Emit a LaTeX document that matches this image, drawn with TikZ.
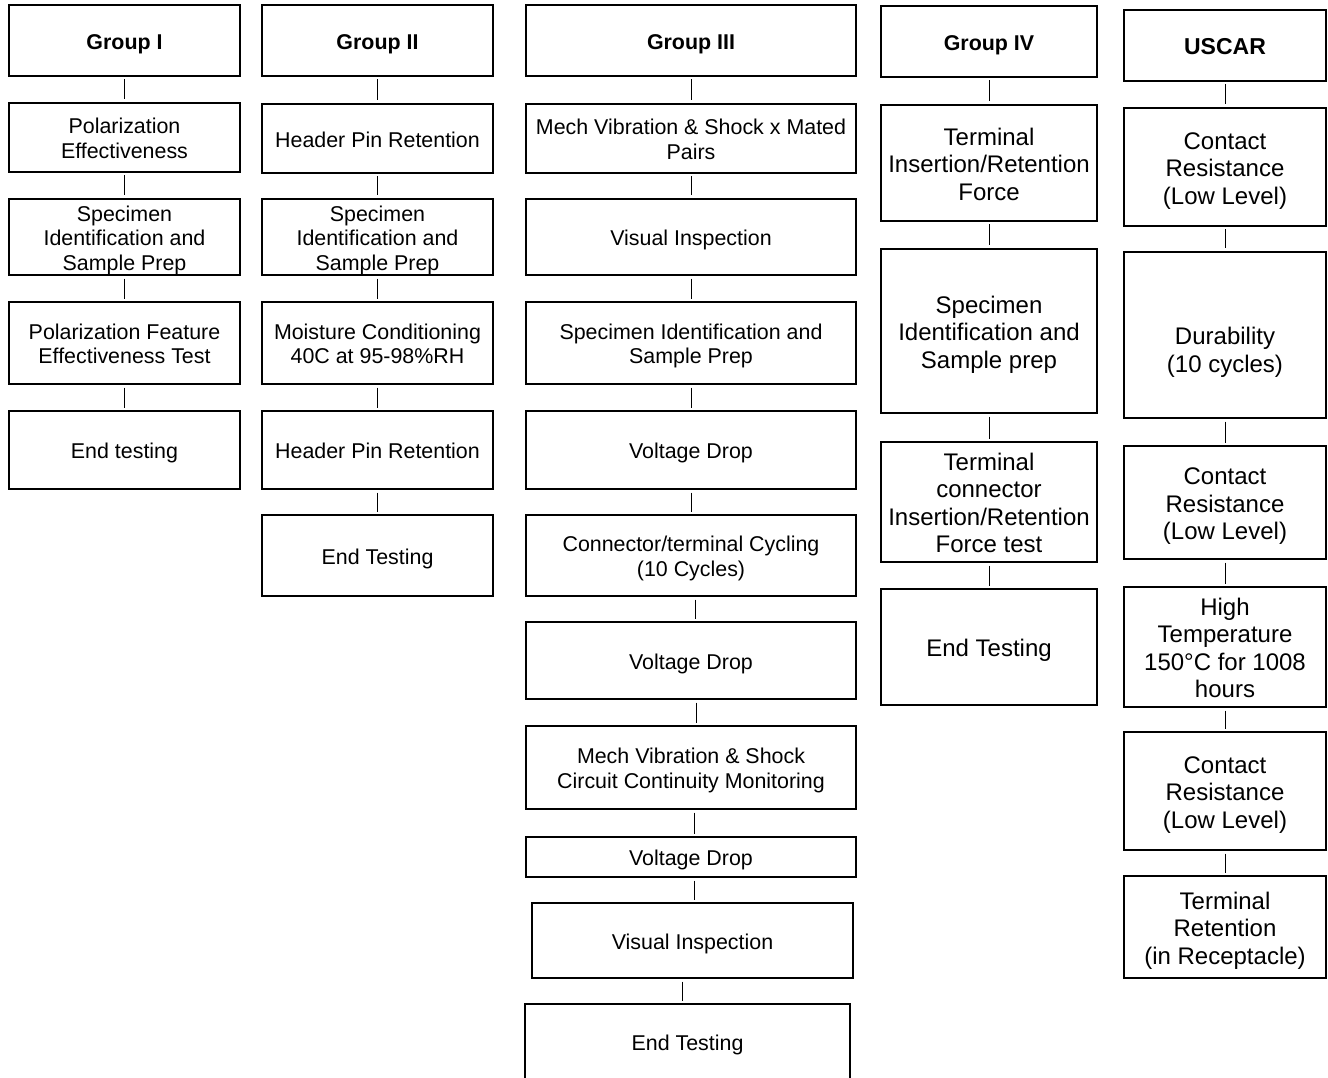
\documentclass[tikz,border=0pt]{standalone}
\usepackage{fontspec}
\setmainfont{Liberation Sans}
\usetikzlibrary{positioning}

\newcommand{\stepfont}{\fontsize{21.4}{24.5}\selectfont}
\newcommand{\widestepfont}{\fontsize{24}{27.5}\selectfont}

\tikzset{
  stepbox/.style={draw, line width=1.6pt, align=flush center, inner sep=0pt,
    outer sep=3.5pt, font=\stepfont,
    execute at begin node={\rule{0pt}{\dimexpr0.936em+2pt\relax}},
    execute at end node={\rule[-0.22em]{0pt}{0pt}}},
  widebox/.style={stepbox, font=\widestepfont},
  headbox/.style={stepbox, font=\stepfont\bfseries},
  boxsize/.style 2 args={minimum width=#1, minimum height=#2, text width=#1-10pt},
  link/.style={line width=0.9pt},
}

\begin{document}
\begin{tikzpicture}[x=1pt, y=-1pt]
  \useasboundingbox (0,0) rectangle (1328,1078);

  % Group I
  \node[headbox, boxsize={231pt}{71pt}] (g1) at (124.5,40.5) {Group I};
  \node[stepbox, boxsize={231pt}{69pt}] (a1) at (124.5,137.5) {Polarization\\Effectiveness};
  \node[stepbox, boxsize={231pt}{76pt}] (a2) at (124.5,237) {Specimen\\Identification and\\Sample Prep};
  \node[stepbox, boxsize={231pt}{82pt}] (a3) at (124.5,343) {Polarization Feature\\Effectiveness Test};
  \node[stepbox, boxsize={231pt}{78pt}] (a4) at (124.5,450) {End testing};

  % Group II
  \node[headbox, boxsize={231pt}{71pt}] (g2) at (377.5,40.5) {Group II};
  \node[stepbox, boxsize={231pt}{69pt}] (b1) at (377.5,138.5) {Header Pin Retention};
  \node[stepbox, boxsize={231pt}{76pt}] (b2) at (377.5,237) {Specimen\\Identification and\\Sample Prep};
  \node[stepbox, boxsize={231pt}{82pt}] (b3) at (377.5,343) {Moisture Conditioning\\40C at 95-98\%RH};
  \node[stepbox, boxsize={231pt}{78pt}] (b4) at (377.5,450) {Header Pin Retention};
  \node[stepbox, boxsize={231pt}{81pt}] (b5) at (377.5,555.5) {End Testing};

  % Group III
  \node[headbox, boxsize={330pt}{71pt}] (g3) at (691,40.5) {Group III};
  \node[stepbox, boxsize={330pt}{69pt}] (c1) at (691,138.5) {Mech Vibration \& Shock x Mated\\Pairs};
  \node[stepbox, boxsize={330pt}{76pt}] (c2) at (691,237) {Visual Inspection};
  \node[stepbox, boxsize={330pt}{82pt}] (c3) at (691,343) {Specimen Identification and\\Sample Prep};
  \node[stepbox, boxsize={330pt}{78pt}] (c4) at (691,450) {Voltage Drop};
  \node[stepbox, boxsize={330pt}{81pt}] (c5) at (691,555.5) {Connector/terminal Cycling\\(10 Cycles)};
  \node[stepbox, boxsize={330pt}{77pt}] (c6) at (691,660.5) {Voltage Drop};
  \node[stepbox, boxsize={330pt}{83pt}] (c7) at (691,767.5) {Mech Vibration \& Shock\\Circuit Continuity Monitoring};
  \node[stepbox, boxsize={330pt}{40pt}] (c8) at (691,857) {Voltage Drop};
  \node[stepbox, boxsize={321pt}{75pt}] (c9) at (692.5,940.5) {Visual Inspection};
  \node[stepbox, boxsize={325pt}{76pt}] (c10) at (687.5,1042) {End Testing};

  % Group IV
  \node[headbox, boxsize={216pt}{71pt}] (g4) at (989,41.5) {Group IV};
  \node[widebox, boxsize={216pt}{116pt}] (d1) at (989,163) {Terminal\\Insertion/Retention\\Force};
  \node[widebox, boxsize={216pt}{164pt}] (d2) at (989,331) {Specimen\\Identification and\\Sample prep};
  \node[widebox, boxsize={216pt}{120pt}] (d3) at (989,502) {Terminal\\connector\\Insertion/Retention\\Force test};
  \node[widebox, boxsize={216pt}{116pt}] (d4) at (989,647) {End Testing};

  % USCAR
  \node[headbox, font=\fontsize{23}{27}\selectfont\bfseries, boxsize={202pt}{71pt}] (g5) at (1225,45.5) {USCAR};
  \node[widebox, boxsize={202pt}{118pt}] (e1) at (1225,167) {Contact\\Resistance\\(Low Level)};
  \node[widebox, boxsize={202pt}{166pt}] (e2) at (1225,335) {~\\Durability\\(10 cycles)};
  \node[widebox, boxsize={202pt}{113pt}] (e3) at (1225,502.5) {Contact\\Resistance\\(Low Level)};
  \node[widebox, boxsize={202pt}{120pt}] (e4) at (1225,647) {High\\Temperature\\150°C for 1008\\hours};
  \node[widebox, boxsize={202pt}{118pt}] (e5) at (1225,791) {Contact\\Resistance\\(Low Level)};
  \node[widebox, boxsize={202pt}{102pt}] (e6) at (1225,927) {Terminal\\Retention\\(in Receptacle)};

  % Connect the steps
  \draw[link] (g1) -- (a1) (a1) -- (a2) (a2) -- (a3) (a3) -- (a4);
  \draw[link] (g2) -- (b1) (b1) -- (b2) (b2) -- (b3) (b3) -- (b4) (b4) -- (b5);
  \draw[link] (g3) -- (c1) (c1) -- (c2) (c2) -- (c3) (c3) -- (c4) (c4) -- (c5);
  \draw[link] ([xshift=4pt]c5.south) -- ([xshift=4pt]c5.south |- c6.north)
              ([xshift=5pt]c6.south) -- ([xshift=5pt]c6.south |- c7.north)
              ([xshift=3pt]c7.south) -- ([xshift=3pt]c7.south |- c8.north)
              ([xshift=3pt]c8.south) -- ([xshift=3pt]c8.south |- c9.north)
              ([xshift=-10.5pt]c9.south) -- ([xshift=-10.5pt]c9.south |- c10.north);
  \draw[link] (g4) -- (d1) (d1) -- (d2) (d2) -- (d3) (d3) -- (d4);
  \draw[link] (g5) -- (e1) (e1) -- (e2) (e2) -- (e3) (e3) -- (e4) (e4) -- (e5) (e5) -- (e6);

\end{tikzpicture}
\end{document}
